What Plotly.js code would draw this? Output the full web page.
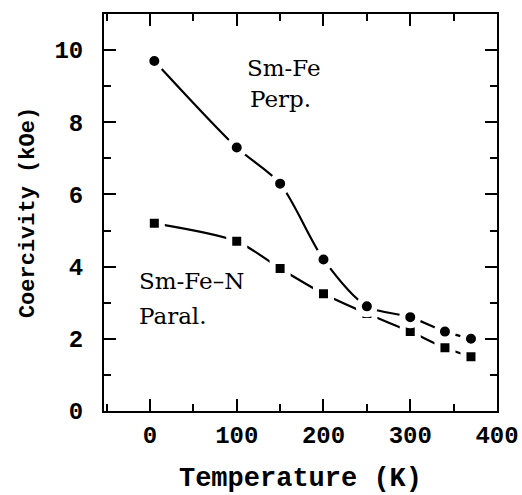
<!DOCTYPE html>
<html>
<head>
<meta charset="utf-8">
<script src="https://cdn.plot.ly/plotly-3.0.1.min.js"></script>
<style>html,body{margin:0;padding:0;background:#fff;}#chart{width:522px;height:495px;}</style>
</head>
<body>
<div id="chart"></div>
<script>
// Temperature (K)
const temperature = [5, 100, 150, 200, 250, 300, 340, 370];
// Coercivity (kOe)
const smFePerp = [9.7, 7.3, 6.3, 4.2, 2.9, 2.6, 2.2, 2.0];
const smFeNParal = [5.2, 4.7, 3.95, 3.25, 2.7, 2.2, 1.75, 1.5];
const seriesLabels = ["Sm-Fe Perp.", "Sm-Fe-N Paral."];
const xTicks = [0, 100, 200, 300, 400];
const yTicks = [0, 2, 4, 6, 8, 10];

const monoFam = "Liberation Mono, DejaVu Sans Mono, monospace";
const tickFont = {family: monoFam, size: 24, color: "#000", weight: "bold"};
const xTitleFont = {family: monoFam, size: 27, color: "#000", weight: "bold"};
const yTitleFont = {family: monoFam, size: 22, color: "#000", weight: "bold"};
const noteFont = {family: "DejaVu Serif, Liberation Serif, serif", size: 23, color: "#000"};

const traces = [
  {
    x: temperature, y: smFeNParal, name: seriesLabels[1], mode: "lines+markers",
    line: {color: "#000", width: 2.2, shape: "spline", smoothing: 0.8},
    marker: {symbol: "square", size: 15, color: "#000", line: {color: "#fff", width: 6}},
    cliponaxis: false
  },
  {
    x: temperature, y: smFePerp, name: seriesLabels[0], mode: "lines+markers",
    line: {color: "#000", width: 2.2, shape: "spline", smoothing: 0.8},
    marker: {symbol: "circle", size: 16, color: "#000", line: {color: "#fff", width: 6}},
    cliponaxis: false
  }
];

const axisCommon = {
  showgrid: false, zeroline: false, showline: true, linecolor: "#000", linewidth: 2,
  ticks: "inside", ticklen: 12, tickwidth: 2, tickcolor: "#000", mirror: "ticks",
  tickfont: tickFont
};

const layout = {
  width: 522, height: 495,
  margin: {l: 104, r: 25, t: 14, b: 84},
  paper_bgcolor: "#fff", plot_bgcolor: "#fff",
  showlegend: false,
  xaxis: Object.assign({}, axisCommon, {
    range: [-53, 400], tickvals: xTicks, ticktext: xTicks.map(String),
    minor: {dtick: 50, tick0: 0, ticks: "inside", ticklen: 7, tickwidth: 2, tickcolor: "#000"},
    ticklabelstandoff: 1,
    title: {text: "Temperature (K)", font: xTitleFont, standoff: 18}
  }),
  yaxis: Object.assign({}, axisCommon, {
    range: [0, 11], tickvals: yTicks, ticktext: yTicks.map(String),
    minor: {dtick: 1, tick0: 0, ticks: "inside", ticklen: 7, tickwidth: 2, tickcolor: "#000"},
    ticklabelstandoff: 14,
    title: {text: "Coercivity (kOe)", font: yTitleFont, standoff: 14}
  }),
  annotations: [
    {xref: "paper", yref: "paper", x: 0.359, y: 0.864, text: "Sm-Fe", showarrow: false, font: noteFont, xanchor: "left", yanchor: "middle"},
    {xref: "paper", yref: "paper", x: 0.366, y: 0.785, text: "Perp.", showarrow: false, font: noteFont, xanchor: "left", yanchor: "middle"},
    {xref: "paper", yref: "paper", x: 0.084, y: 0.328, text: "Sm-Fe–N", showarrow: false, font: noteFont, xanchor: "left", yanchor: "middle"},
    {xref: "paper", yref: "paper", x: 0.084, y: 0.24, text: "Paral.", showarrow: false, font: noteFont, xanchor: "left", yanchor: "middle"}
  ]
};

Plotly.newPlot("chart", traces, layout, {displayModeBar: false, staticPlot: true});
</script>
</body>
</html>
